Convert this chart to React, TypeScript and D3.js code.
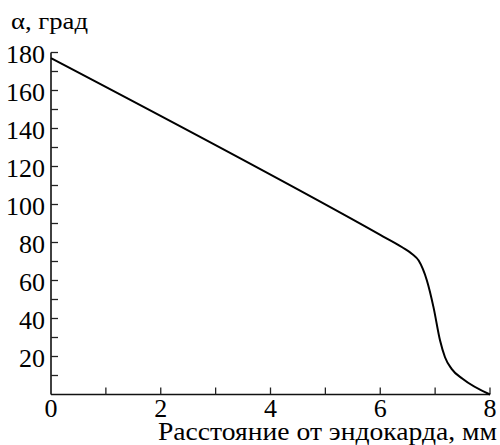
import React from "react";
import * as d3 from "d3";

const distance: number[] = [0, 6.0, 6.4, 6.58, 6.7, 6.85, 6.97, 7.09, 7.18, 7.3, 7.5, 8];
const angle: number[] = [177, 84, 77.5, 74, 70.5, 60, 46, 28.4, 19.6, 13.5, 8.3, 0];
const xTickLabels: number[] = [0, 2, 4, 6, 8];
const xMinorTicks: number[] = [1, 2, 3, 4, 5, 6, 7, 8];
const yTickLabels: number[] = [20, 40, 60, 80, 100, 120, 140, 160, 180];
const yMinorTicks: number[] = [10, 20, 30, 40, 50, 60, 70, 80, 90, 100, 110, 120, 130, 140, 150, 160, 170, 180];

const W = 500;
const H = 445;
const left = 51;
const right = 490;
const top = 52.5;
const bottom = 394.5;
const font = "Liberation Serif, Tinos, Times New Roman, DejaVu Serif, serif";

export default function App() {
  const x = d3.scaleLinear().domain([0, 8]).range([left, right]);
  const y = d3.scaleLinear().domain([0, 180]).range([bottom, top]);
  const pts = distance.map((d, i) => [d, angle[i]] as [number, number]);
  const line = d3
    .line<[number, number]>()
    .x((d) => x(d[0]))
    .y((d) => y(d[1]))
    .curve(d3.curveMonotoneX);
  const tl = 7;
  const ts = { fontFamily: font };
  return (
    <svg
      width={W}
      height={H}
      style={{ position: "absolute", left: 0, top: 0, background: "#fff" }}
    >
      <rect x={0} y={0} width={W} height={H} fill="#fff" />
      <line x1={left} y1={top} x2={left} y2={bottom} stroke="#111" strokeWidth={1.6} />
      <line x1={left} y1={bottom} x2={right} y2={bottom} stroke="#111" strokeWidth={1.6} />
      {yMinorTicks.map((v) => (
        <line key={"yt" + v} x1={left} x2={left + tl} y1={y(v)} y2={y(v)} stroke="#222" strokeWidth={1.3} />
      ))}
      {xMinorTicks.map((v) => (
        <line key={"xt" + v} x1={x(v)} x2={x(v)} y1={bottom} y2={bottom - tl} stroke="#222" strokeWidth={1.3} />
      ))}
      {yTickLabels.map((v) => (
        <text
          key={"yl" + v}
          x={left - 6}
          y={y(v) + 10}
          textAnchor="end"
          style={ts}
          fontSize={26}
          fill="#000"
        >
          {v}
        </text>
      ))}
      {xTickLabels.map((v) => (
        <text
          key={"xl" + v}
          x={x(v)}
          y={417}
          textAnchor="middle"
          style={ts}
          fontSize={26}
          fill="#000"
        >
          {v}
        </text>
      ))}
      <path d={line(pts) || ""} fill="none" stroke="#000" strokeWidth={2} />
      <text
        x={11}
        y={29}
        style={ts}
        fontSize={24}
        fill="#000"
        textLength={77}
        lengthAdjust="spacingAndGlyphs"
      >
        α, град
      </text>
      <text
        x={158}
        y={439.5}
        style={ts}
        fontSize={25}
        fill="#000"
        textLength={339}
        lengthAdjust="spacingAndGlyphs"
      >
        Расстояние от эндокарда, мм
      </text>
    </svg>
  );
}
